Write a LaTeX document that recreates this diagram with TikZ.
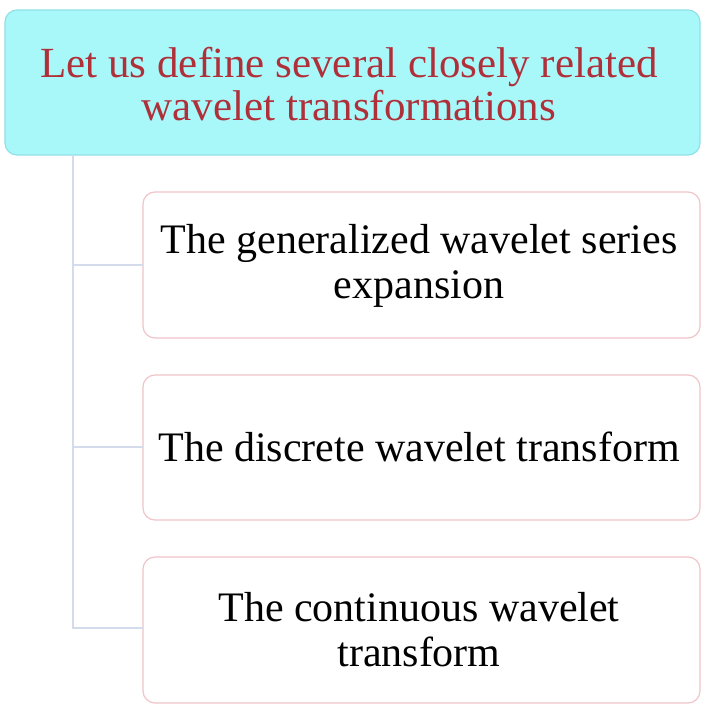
\documentclass[tikz,border=0pt]{standalone}
\usepackage{fontspec}
\setmainfont{Liberation Serif}
\definecolor{topfill}{HTML}{A8F8FA}
\definecolor{topdraw}{HTML}{90E0E8}
\definecolor{toptext}{HTML}{B0303A}
\definecolor{childdraw}{HTML}{F0C4C8}
\definecolor{linkcol}{HTML}{D4DCEC}
\begin{document}
\begin{tikzpicture}[x=1pt,y=-1pt,
  topbox/.style={draw=topdraw,fill=topfill,rounded corners=12pt,line width=1.2pt},
  childbox/.style={draw=childdraw,fill=white,rounded corners=12pt,line width=1.2pt},
  link/.style={draw=linkcol,line width=1.6pt},
  txt/.style={align=center,inner sep=0pt}]
\useasboundingbox (0,0) rectangle (708,708);
\fill[white] (0,0) rectangle (708,708);
\draw[topbox] (5,10) rectangle (700,155);
\node[txt,text=toptext,font=\fontsize{43}{43}\selectfont] (top) at (349,84) {Let us define several closely related\\wavelet transformations};
\coordinate (trunk) at (73,155);
\coordinate (end) at (73,628);
\draw[childbox] (143,192) rectangle (700,338);
\node[txt,font=\fontsize{42}{45}\selectfont] (c1) at (419,266) {The generalized wavelet series\\expansion};
\draw[childbox] (143,375) rectangle (700,520);
\node[txt,font=\fontsize{42}{45}\selectfont] (c2) at (419,447) {The discrete wavelet transform};
\draw[childbox] (143,557) rectangle (700,703);
\node[txt,font=\fontsize{42}{45}\selectfont] (c3) at (419,630) {The continuous wavelet\\transform};
\coordinate (l1) at (143,265);
\coordinate (l2) at (143,447);
\coordinate (l3) at (143,628);
\draw[link] (trunk) -- (end) -- (l3);
\draw[link] (73,265) -- (l1);
\draw[link] (73,447) -- (l2);
\end{tikzpicture}
\end{document}
